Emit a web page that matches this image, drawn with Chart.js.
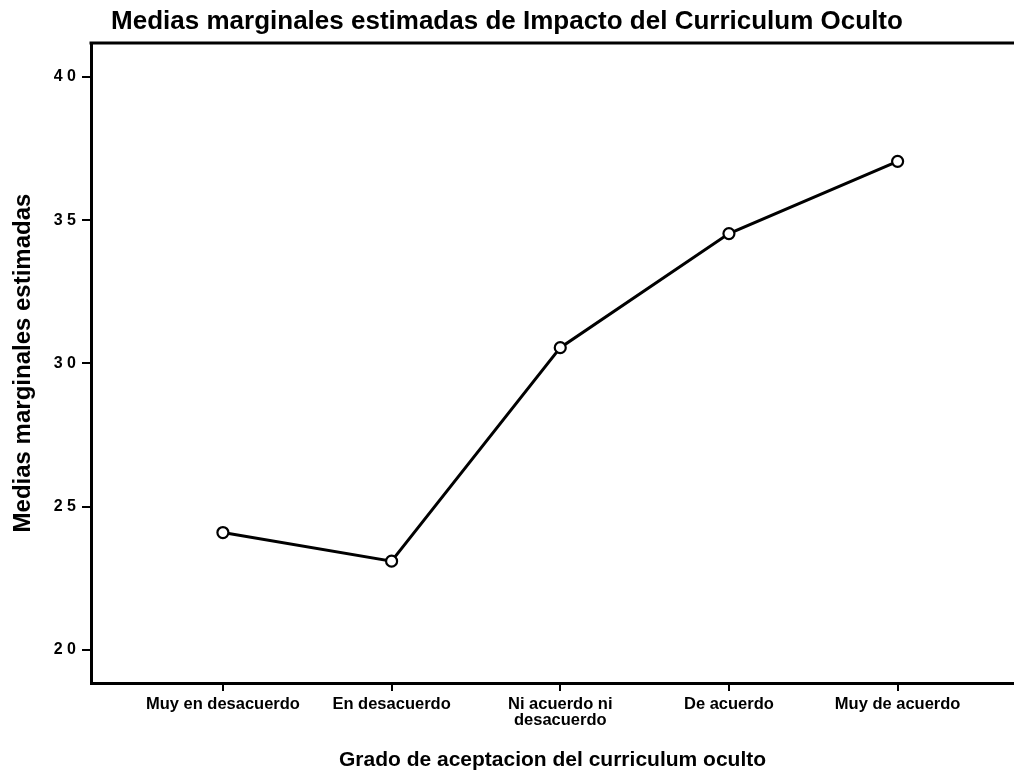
<!DOCTYPE html>
<html>
<head>
<meta charset="utf-8">
<script src="https://cdn.jsdelivr.net/npm/chart.js@4/dist/chart.umd.min.js"></script>
<style>
html,body{margin:0;padding:0;background:#fff;}
#wrap{width:1014px;height:774px;}
</style>
</head>
<body>
<div id="wrap"><canvas id="c" width="1014" height="774"></canvas></div>
<script>
const categories = ['Muy en desacuerdo', 'En desacuerdo', ['Ni acuerdo ni', 'desacuerdo'], 'De acuerdo', 'Muy de acuerdo'];
const values = [2.41, 2.31, 3.055, 3.453, 3.705];
const yTickValues = [2.0, 2.5, 3.0, 3.5, 4.0];
const yTickLabels = ['2 0', '2 5', '3 0', '3 5', '4 0'];
const titleText = 'Medias marginales estimadas de Impacto del Curriculum Oculto';
const xTitle = 'Grado de aceptacion del curriculum oculto';
const yTitle = 'Medias marginales estimadas';

const topBorder = {
  id: 'topBorder',
  afterDraw(chart) {
    const {ctx, chartArea} = chart;
    ctx.save();
    ctx.strokeStyle = '#000';
    ctx.lineWidth = 3;
    ctx.beginPath();
    ctx.moveTo(chartArea.left - 1.5, chartArea.top);
    ctx.lineTo(chart.width, chartArea.top);
    ctx.stroke();
    ctx.restore();
  }
};

new Chart(document.getElementById('c'), {
  type: 'line',
  data: {
    datasets: [{
      data: values.map((v, i) => ({x: i + 1, y: v})),
      borderColor: '#000',
      borderWidth: 3,
      pointRadius: 5.5,
      pointBorderWidth: 2.2,
      pointBorderColor: '#000',
      pointBackgroundColor: '#fff',
      tension: 0,
      clip: false
    }]
  },
  options: {
    responsive: false,
    animation: false,
    layout: {autoPadding: false, padding: 0},
    plugins: {
      legend: {display: false},
      tooltip: {enabled: false},
      title: {
        display: true,
        text: titleText,
        color: '#000',
        font: {family: 'Liberation Sans', size: 26, weight: 'bold', lineHeight: 1.2},
        padding: {top: 6, bottom: 5.8}
      }
    },
    scales: {
      x: {
        type: 'linear',
        min: 0.218,
        max: 5.69,
        afterBuildTicks(scale) { scale.ticks = categories.map((c, i) => ({value: i + 1})); },
        afterFit(scale) { scale.height = 91; },
        ticks: {
          autoSkip: false,
          maxRotation: 0,
          color: '#000',
          padding: 5,
          font: {family: 'Liberation Sans', size: 16.5, weight: 'bold', lineHeight: 1.0},
          callback: (v) => categories[Math.round(v) - 1]
        },
        grid: {drawOnChartArea: false, drawTicks: true, tickLength: 8, color: '#000', lineWidth: 2},
        border: {display: true, color: '#000', width: 3},
        title: {
          display: true,
          text: xTitle,
          color: '#000',
          font: {family: 'Liberation Sans', size: 21, weight: 'bold', lineHeight: 1.2},
          padding: {top: 10, bottom: 1}
        }
      },
      y: {
        type: 'linear',
        min: 1.885,
        max: 4.118,
        afterBuildTicks(scale) { scale.ticks = yTickValues.map(v => ({value: v})); },
        afterFit(scale) { scale.width = 91; },
        ticks: {
          color: '#000',
          padding: 6,
          font: {family: 'Liberation Sans', size: 16, weight: 'bold'},
          callback: (v) => yTickLabels[yTickValues.indexOf(v)]
        },
        grid: {drawOnChartArea: false, drawTicks: true, tickLength: 9, color: '#000', lineWidth: 2},
        border: {display: true, color: '#000', width: 3},
        title: {
          display: true,
          text: yTitle,
          color: '#000',
          font: {family: 'Liberation Sans', size: 24, weight: 'bold', lineHeight: 1.2},
          padding: {top: 9, bottom: 0}
        }
      }
    }
  },
  plugins: [topBorder]
});
</script>
</body>
</html>
